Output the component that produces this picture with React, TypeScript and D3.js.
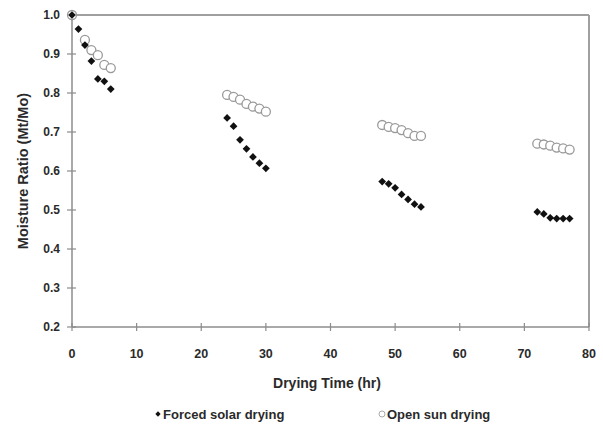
import React from "react";
import * as d3 from "d3";

// Drying time (hr) for each measurement
const forcedTimes = [0, 1, 2, 3, 4, 5, 6, 24, 25, 26, 27, 28, 29, 30, 48, 49, 50, 51, 52, 53, 54, 72, 73, 74, 75, 76, 77];
// Moisture ratio Mt/Mo, forced solar drying
const forcedValues = [1.0, 0.964, 0.923, 0.882, 0.836, 0.83, 0.81, 0.736, 0.715, 0.68, 0.657, 0.636, 0.62, 0.607, 0.573, 0.567, 0.557, 0.54, 0.527, 0.515, 0.508, 0.495, 0.49, 0.48, 0.478, 0.478, 0.478];

const openTimes = [0, 2, 3, 4, 5, 6, 24, 25, 26, 27, 28, 29, 30, 48, 49, 50, 51, 52, 53, 54, 72, 73, 74, 75, 76, 77];
// Moisture ratio Mt/Mo, open sun drying
const openValues = [1.0, 0.936, 0.91, 0.897, 0.872, 0.864, 0.795, 0.79, 0.783, 0.772, 0.765, 0.76, 0.752, 0.718, 0.713, 0.71, 0.705, 0.697, 0.69, 0.69, 0.67, 0.668, 0.665, 0.66, 0.658, 0.655];

const xTicks = [0, 10, 20, 30, 40, 50, 60, 70, 80];
const yTicks = [0.2, 0.3, 0.4, 0.5, 0.6, 0.7, 0.8, 0.9, 1.0];

const W = 603;
const H = 427;
const left = 72;
const right = 589;
const top = 15;
const bottom = 327;

const FONT = "'Liberation Sans', Arial, sans-serif";
const AXIS = "#8c8c8c";
const TEXT = "#2a2a2a";

export default function App() {
  const x = d3.scaleLinear().domain([0, 80]).range([left, right]);
  const y = d3.scaleLinear().domain([0.2, 1.0]).range([bottom, top]);
  const diamond = d3.symbol().type(d3.symbolSquare).size(30)();

  const forced = forcedTimes.map((t, i) => ({ t, v: forcedValues[i] }));
  const open = openTimes.map((t, i) => ({ t, v: openValues[i] }));

  return (
    <svg
      width={W}
      height={H}
      style={{ position: "absolute", left: 0, top: 0, background: "#fff" }}
      fontFamily={FONT}
    >
      {/* plot frame: top and right borders */}
      <line x1={left} x2={right} y1={top} y2={top} stroke="#a0a0a0" strokeWidth={2} />
      <line x1={right} x2={right} y1={top} y2={bottom} stroke="#a0a0a0" strokeWidth={2} />

      {/* y axis */}
      <line x1={left} x2={left} y1={top} y2={bottom} stroke={AXIS} strokeWidth={1.5} />
      {yTicks.map((v) => (
        <g key={v}>
          <line x1={left - 5} x2={left + 4} y1={y(v)} y2={y(v)} stroke={AXIS} strokeWidth={1.2} />
          <text
            x={left - 12}
            y={y(v)}
            dy="0.35em"
            textAnchor="end"
            fontSize={12}
            fontWeight="bold"
            fill={TEXT}
          >
            {v.toFixed(1)}
          </text>
        </g>
      ))}

      {/* x axis */}
      <line x1={left} x2={right} y1={bottom} y2={bottom} stroke={AXIS} strokeWidth={1.5} />
      {xTicks.map((t) => (
        <g key={t}>
          <line x1={x(t)} x2={x(t)} y1={bottom - 4} y2={bottom + 4} stroke={AXIS} strokeWidth={1.2} />
          <text
            x={x(t)}
            y={bottom + 31}
            textAnchor="middle"
            fontSize={12.5}
            fontWeight="bold"
            fill={TEXT}
          >
            {t}
          </text>
        </g>
      ))}

      {/* axis titles */}
      <text x={327} y={388} textAnchor="middle" fontSize={14} fontWeight="bold" fill={TEXT}>
        Drying Time (hr)
      </text>
      <text
        transform={`translate(28, ${(top + bottom) / 2}) rotate(-90)`}
        textAnchor="middle"
        fontSize={14.5}
        fontWeight="bold"
        fill={TEXT}
      >
        Moisture Ratio (Mt/Mo)
      </text>

      {/* open sun drying: hollow circles */}
      {open.map((d, i) => (
        <circle
          key={`o${i}`}
          cx={x(d.t)}
          cy={y(d.v)}
          r={4.5}
          fill="#fff"
          stroke="#999"
          strokeWidth={1.3}
        />
      ))}

      {/* forced solar drying: filled diamonds */}
      {forced.map((d, i) => (
        <path
          key={`f${i}`}
          d={diamond}
          transform={`translate(${x(d.t)},${y(d.v)}) rotate(45)`}
          fill="#111"
        />
      ))}

      {/* legend */}
      <g transform="translate(158, 414)">
        <path d={d3.symbol().type(d3.symbolSquare).size(14)()} transform="rotate(45)" fill="#111" />
        <text x={5} dy="0.35em" fontSize={13} fontWeight="bold" fill={TEXT}>
          Forced solar drying
        </text>
      </g>
      <g transform="translate(382, 414)">
        <circle r={3} fill="#fff" stroke="#aaa" strokeWidth={1} />
        <text x={5} dy="0.35em" fontSize={13} fontWeight="bold" fill={TEXT}>
          Open sun drying
        </text>
      </g>
    </svg>
  );
}
